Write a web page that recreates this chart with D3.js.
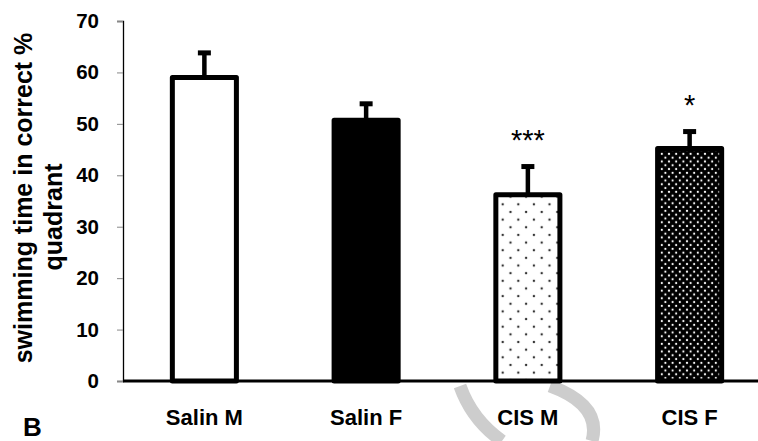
<!DOCTYPE html>
<html>
<head>
<meta charset="utf-8">
<script src="https://cdn.jsdelivr.net/npm/d3@7"></script>
<style>
  body { margin: 0; background: #fff; }
  svg { display: block; font-family: "Liberation Sans", Arial, sans-serif; }
</style>
</head>
<body>
<div id="chart"></div>
<script>
// data
var groups = ["Salin M", "Salin F", "CIS M", "CIS F"];
var means = [59, 50.7, 36.2, 45.2];
var errors = [4.8, 3.2, 5.5, 3.3];
var stars = ["", "", "***", "*"];
var yTicks = [0, 10, 20, 30, 40, 50, 60, 70];
var fills = ["#fff", "#000", "url(#dotsSparse)", "url(#dotsDense)"];

var width = 758;
var height = 441;

var svg = d3.select('#chart')
    .append('svg')
    .attr('width', width)
    .attr('height', height);

// patterns for the CIS bars
var defs = svg.append('defs');
var p1 = defs.append('pattern')
    .attr('id', 'dotsSparse')
    .attr('patternUnits', 'userSpaceOnUse')
    .attr('x', 502.7).attr('y', 204.3)
    .attr('width', 15.6).attr('height', 15.3);
p1.append('rect').attr('width', 15.6).attr('height', 15.3).attr('fill', '#fff');
p1.append('circle').attr('cx', 0).attr('cy', 0).attr('r', 1.2).attr('fill', '#333');
p1.append('circle').attr('cx', 15.6).attr('cy', 0).attr('r', 1.2).attr('fill', '#333');
p1.append('circle').attr('cx', 0).attr('cy', 15.3).attr('r', 1.2).attr('fill', '#333');
p1.append('circle').attr('cx', 15.6).attr('cy', 15.3).attr('r', 1.2).attr('fill', '#333');
p1.append('circle').attr('cx', 7.8).attr('cy', 7.65).attr('r', 1.2).attr('fill', '#333');

var p2 = defs.append('pattern')
    .attr('id', 'dotsDense')
    .attr('patternUnits', 'userSpaceOnUse')
    .attr('x', 660).attr('y', 152)
    .attr('width', 7.2).attr('height', 7.6);
p2.append('rect').attr('width', 7.2).attr('height', 7.6).attr('fill', '#000');
p2.append('circle').attr('cx', 1.8).attr('cy', 1.9).attr('r', 1.1).attr('fill', '#fff');
p2.append('circle').attr('cx', 5.4).attr('cy', 5.7).attr('r', 1.1).attr('fill', '#fff');

// watermark (grey arcs behind the labels)
var wm = svg.append('g').attr('fill', 'none').attr('stroke', '#cdcdcd').attr('stroke-width', 13);
wm.append('path').attr('d', 'M460,386 Q472,420 502,441');
wm.append('path').attr('d', 'M550,386 Q602,405 592,441');

// skalor
var x = d3.scaleBand()
    .domain(groups)
    .range([123.5, 770.5])
    .paddingInner(0.604)
    .paddingOuter(0.302);

var y = d3.scaleLinear()
    .domain([0, 70])
    .range([381, 21]);

// y-axel
var yAxis = svg.append('g')
    .attr('transform', 'translate(123,0)')
    .call(d3.axisLeft(y).tickValues(yTicks).tickSize(6).tickPadding(18));
yAxis.select('.domain').attr('stroke', '#000').attr('stroke-width', 1.3);
yAxis.selectAll('.tick line').attr('stroke', '#888');
yAxis.selectAll('.tick text')
    .attr('font-size', 20.5)
    .attr('font-weight', 'bold')
    .attr('fill', '#000')
    .style('font-family', '"Liberation Sans", Arial, sans-serif');

// felstaplar
var eb = svg.append('g').selectAll('g')
    .data(groups).enter()
    .append('g');
eb.append('line')
    .attr('x1', function (d) { return x(d) + x.bandwidth() / 2; })
    .attr('x2', function (d) { return x(d) + x.bandwidth() / 2; })
    .attr('y1', function (d, i) { return y(means[i]); })
    .attr('y2', function (d, i) { return y(means[i] + errors[i]); })
    .attr('stroke', '#000')
    .attr('stroke-width', 4.5);
eb.append('line')
    .attr('x1', function (d) { return x(d) + x.bandwidth() / 2 - 6.5; })
    .attr('x2', function (d) { return x(d) + x.bandwidth() / 2 + 6.5; })
    .attr('y1', function (d, i) { return y(means[i] + errors[i]); })
    .attr('y2', function (d, i) { return y(means[i] + errors[i]); })
    .attr('stroke', '#000')
    .attr('stroke-width', 5);

// staplar
svg.append('g').selectAll('rect')
    .data(groups).enter()
    .append('rect')
    .attr('x', function (d) { return x(d); })
    .attr('y', function (d, i) { return y(means[i]); })
    .attr('width', x.bandwidth())
    .attr('height', function (d, i) { return y(0) - y(means[i]); })
    .attr('fill', function (d, i) { return fills[i]; })
    .attr('stroke', '#000')
    .attr('stroke-width', 5)
    .attr('stroke-linejoin', 'round');

// x-axel
svg.append('line')
    .attr('x1', 123).attr('x2', width)
    .attr('y1', y(0)).attr('y2', y(0))
    .attr('stroke', '#000')
    .attr('stroke-width', 3.2);

// kategorier
svg.append('g').selectAll('text')
    .data(groups).enter()
    .append('text')
    .attr('x', function (d) { return x(d) + x.bandwidth() / 2; })
    .attr('y', 425)
    .attr('text-anchor', 'middle')
    .attr('font-size', 22)
    .attr('font-weight', 'bold')
    .text(function (d) { return d; });

// signifikans
svg.append('g').selectAll('text')
    .data(groups).enter()
    .append('text')
    .attr('x', function (d) { return x(d) + x.bandwidth() / 2; })
    .attr('y', function (d, i) { return y(means[i] + errors[i]) - 17; })
    .attr('text-anchor', 'middle')
    .attr('font-size', 29)
    .text(function (d, i) { return stars[i]; });

// y-titel
svg.append('text')
    .attr('transform', 'translate(32,198) rotate(-90)')
    .attr('text-anchor', 'middle')
    .attr('font-size', 25)
    .attr('font-weight', 'bold')
    .text('swimming time in correct %');
svg.append('text')
    .attr('transform', 'translate(62,217) rotate(-90)')
    .attr('text-anchor', 'middle')
    .attr('font-size', 25)
    .attr('font-weight', 'bold')
    .text('quadrant');

// panelbokstav
svg.append('text')
    .attr('x', 23).attr('y', 436)
    .attr('font-size', 26)
    .attr('font-weight', 'bold')
    .text('B');
</script>
</body>
</html>
